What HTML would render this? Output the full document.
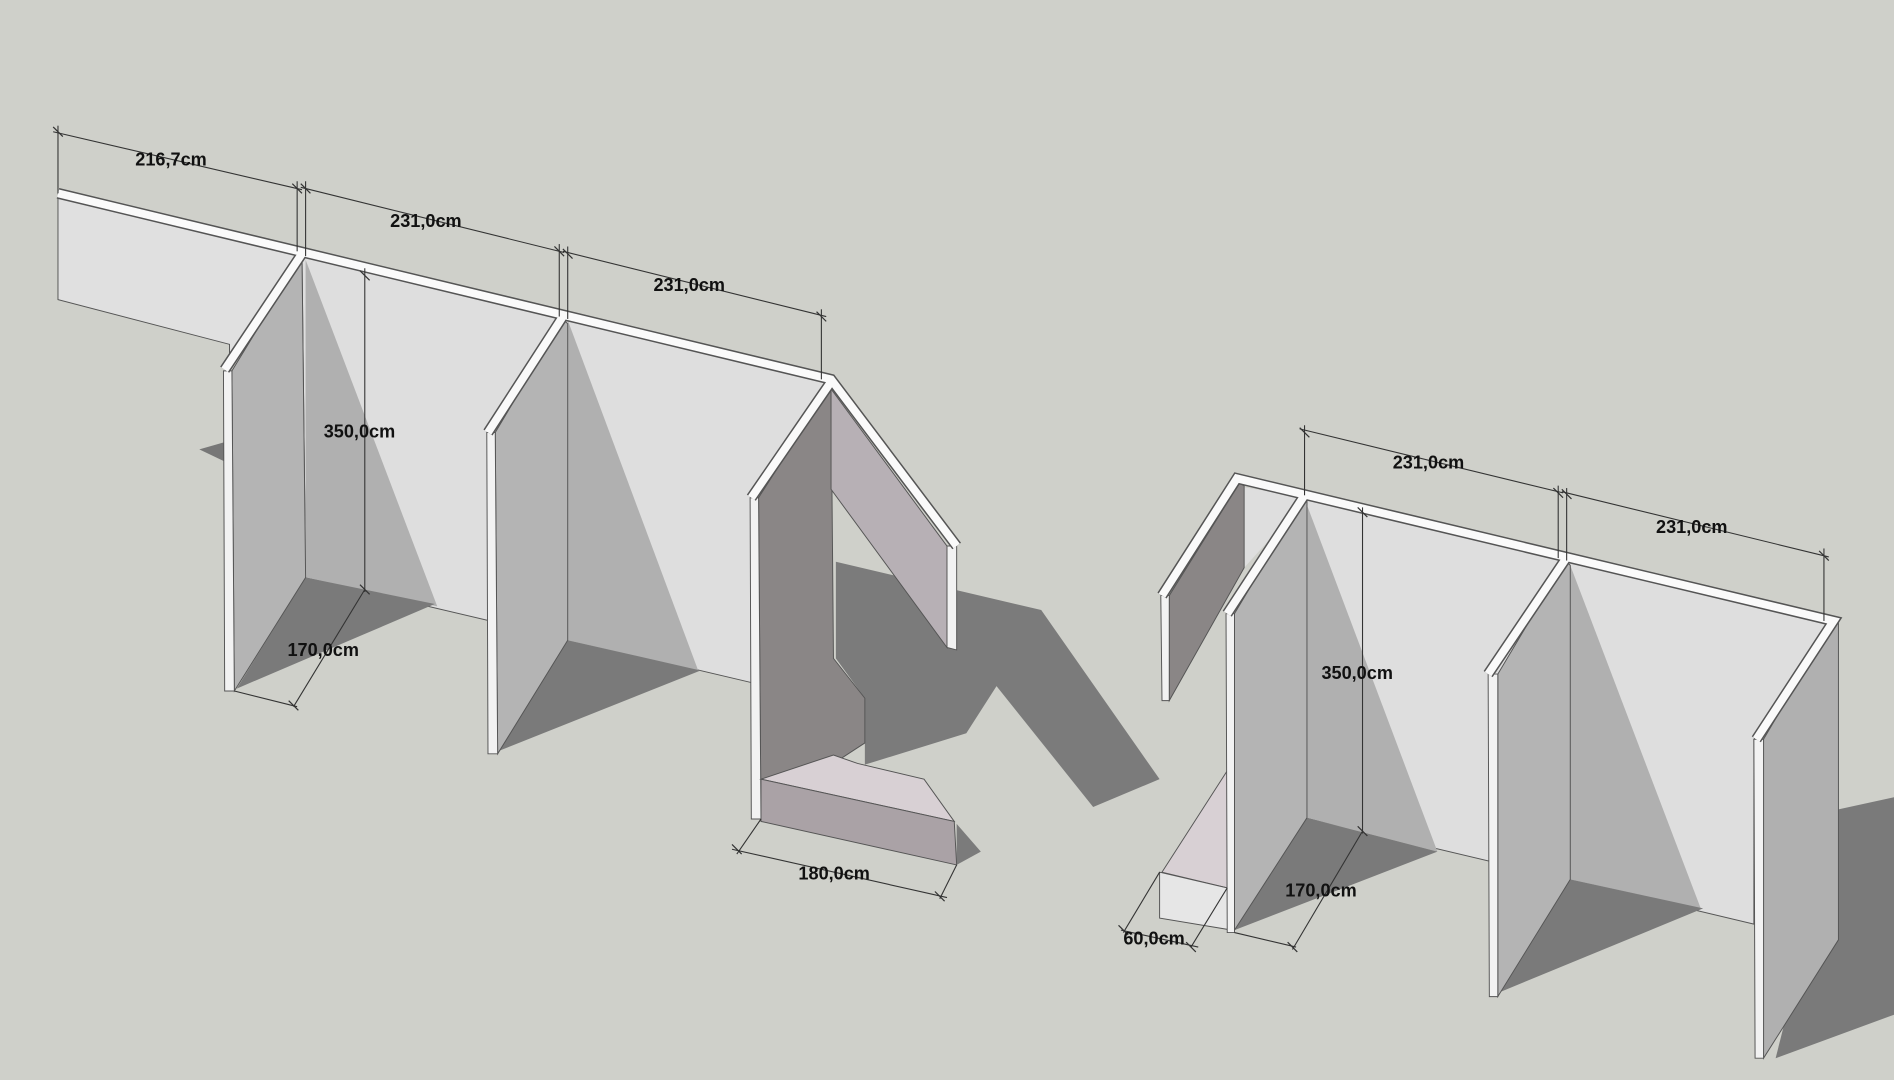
<!DOCTYPE html>
<html><head><meta charset="utf-8"><style>
html,body{margin:0;padding:0;background:#cfd0ca;}
svg{display:block;}
text{font-family:"Liberation Sans",sans-serif;font-weight:bold;font-size:15px;fill:#111;}
</style></head><body>
<svg width="1894" height="1080" viewBox="0 0 1568 894" xmlns="http://www.w3.org/2000/svg">
<rect width="1568" height="894" fill="#cfd0ca"/>
<!-- left structure -->
<polygon points="165,372 186,366 186,382" fill="#777"/>
<polygon points="48,160 250,208 190,300 190,285 48,248" fill="#e0e0e0" stroke="#555" stroke-width="0.8"/>
<polygon points="250,210 688,315 622,412 622,565 253,478" fill="#dedede" stroke="#555" stroke-width="0.8"/>
<polygon points="253,215 362,502 253,478" fill="#b0b0b0"/>
<polygon points="470,265 578,555 470,530" fill="#b0b0b0"/>
<polygon points="196,570 253,478 360,500" fill="#7a7a7a"/>
<polygon points="412,622 470,530 580,555" fill="#7a7a7a"/>
<polygon points="692,465 862,505 960,645 905,668 825,568 800,607 716,633 716,578 692,545" fill="#7b7b7b"/>
<polygon points="792,682 812,705 792,716" fill="#7b7b7b"/>
<polygon points="192,307 250,212 253,478 194,572" fill="#b4b4b4" stroke="#555" stroke-width="0.8"/>
<polygon points="185,307 192,307 194,572 186,572" fill="#f2f2f2" stroke="#555" stroke-width="0.8"/>
<polygon points="410,358 466,264 470,268 470,530 412,624" fill="#b4b4b4" stroke="#555" stroke-width="0.8"/>
<polygon points="403,358 410,358 412,624 404,624" fill="#f2f2f2" stroke="#555" stroke-width="0.8"/>
<polygon points="628,412 688,318 690,545 716,578 716,615 690,632 630,645 630,678" fill="#8a8686" stroke="#555" stroke-width="0.8"/>
<polygon points="621,412 628,412 630,678 622,678" fill="#f2f2f2" stroke="#555" stroke-width="0.8"/>
<polygon points="688,322 784,452 784,536 688,405" fill="#b7b0b5" stroke="#555" stroke-width="0.8"/>
<polygon points="784,452 792,452 792,538 784,536" fill="#f2f2f2" stroke="#555" stroke-width="0.8"/>
<polygon points="630,645 690,625 710,632 765,645 790,680" fill="#d8d0d4" stroke="#555" stroke-width="0.8"/>
<polygon points="630,645 790,680 792,716 630,680" fill="#aaa2a6" stroke="#555" stroke-width="0.8"/>
<!-- right structure -->
<polygon points="1522,670 1568,660 1568,840 1470,876" fill="#7a7a7a"/>
<polygon points="1082,412 1518,515 1452,612 1452,765 1082,677" fill="#dedede" stroke="#555" stroke-width="0.8"/>
<polygon points="1082,418 1190,705 1082,677" fill="#b0b0b0"/>
<polygon points="1300,468 1408,752 1300,728" fill="#b0b0b0"/>
<polygon points="1022,770 1082,677 1190,705" fill="#7a7a7a"/>
<polygon points="1240,822 1300,728 1410,752" fill="#7a7a7a"/>
<polygon points="1022,402 1082,412 1030,470" fill="#dedede"/>
<polygon points="968,493 1026,400 1030,402 1030,470 968,580" fill="#8a8686" stroke="#555" stroke-width="0.8"/>
<polygon points="961,493 968,493 968,580 962,580" fill="#f2f2f2" stroke="#555" stroke-width="0.8"/>
<polygon points="1022,508 1078,414 1082,412 1082,677 1022,770" fill="#b4b4b4" stroke="#555" stroke-width="0.8"/>
<polygon points="962,722 1016,638 1016,735" fill="#d8d0d4" stroke="#555" stroke-width="0.8"/>
<polygon points="960,722 1016,735 1020,770 960,760" fill="#e6e6e6" stroke="#555" stroke-width="0.8"/>
<polygon points="1015,508 1022,508 1022,772 1016,772" fill="#f2f2f2" stroke="#555" stroke-width="0.8"/>
<polygon points="1240,558 1296,464 1300,468 1300,728 1240,825" fill="#b4b4b4" stroke="#555" stroke-width="0.8"/>
<polygon points="1232,558 1240,558 1240,825 1233,825" fill="#f2f2f2" stroke="#555" stroke-width="0.8"/>
<polygon points="1460,612 1515,518 1522,515 1522,778 1460,876" fill="#b0b0b0" stroke="#555" stroke-width="0.8"/>
<polygon points="1452,612 1460,612 1460,876 1453,876" fill="#f2f2f2" stroke="#555" stroke-width="0.8"/>
<!-- top edges -->
<g fill="none" stroke-linejoin="miter">
<g stroke="#555" stroke-width="9">
<polyline points="48,160 688,314 792,452"/>
<polyline points="186,306 250,210"/><polyline points="404,358 466,262"/><polyline points="622,412 688,316"/>
<polyline points="962,493 1024,396 1518,514 1454,612"/>
<polyline points="1016,508 1080,410"/><polyline points="1232,558 1296,463"/>
</g>
<g stroke="#fafafa" stroke-width="6.5">
<polyline points="48,160 688,314 792,452"/>
<polyline points="186,306 250,210"/><polyline points="404,358 466,262"/><polyline points="622,412 688,316"/>
<polyline points="962,493 1024,396 1518,514 1454,612"/>
<polyline points="1016,508 1080,410"/><polyline points="1232,558 1296,463"/>
</g>
</g>
<!-- dimension lines -->
<g stroke="#333" stroke-width="0.9" fill="none">
<line x1="48" y1="104" x2="48" y2="160"/><line x1="246" y1="150" x2="246" y2="208"/>
<line x1="253" y1="150" x2="253" y2="212"/><line x1="463" y1="202" x2="463" y2="262"/>
<line x1="470" y1="204" x2="470" y2="264"/><line x1="680" y1="256" x2="680" y2="314"/>
<line x1="44" y1="109" x2="250" y2="157"/><line x1="249" y1="155" x2="467" y2="209"/><line x1="466" y1="208" x2="684" y2="262"/>
<line x1="302" y1="222" x2="302" y2="490"/><line x1="302" y1="488" x2="243" y2="585"/><line x1="194" y1="572" x2="246" y2="585"/>
<line x1="630" y1="678" x2="610" y2="707"/><line x1="792" y1="716" x2="778" y2="744"/><line x1="606" y1="703" x2="784" y2="743"/>
<line x1="1080" y1="352" x2="1080" y2="410"/><line x1="1290" y1="402" x2="1290" y2="462"/><line x1="1297" y1="404" x2="1297" y2="464"/><line x1="1510" y1="454" x2="1510" y2="514"/>
<line x1="1076" y1="355" x2="1294" y2="408"/><line x1="1293" y1="407" x2="1514" y2="461"/>
<line x1="1128" y1="420" x2="1128" y2="690"/><line x1="1128" y1="688" x2="1070" y2="786"/><line x1="1022" y1="772" x2="1073" y2="784"/>
<line x1="960" y1="722" x2="930" y2="772"/><line x1="1016" y1="735" x2="986" y2="784"/><line x1="928" y1="770" x2="992" y2="784"/>
</g>
<g stroke="#333" stroke-width="1">
<path d="M44,105 l8,8 M242,152 l8,8 M249,152 l8,8 M459,204 l8,8 M466,206 l8,8 M676,258 l8,8 M298,224 l8,8 M298,484 l8,8 M239,580 l8,8 M606,699 l8,8 M774,738 l8,8 M1076,354 l8,8 M1286,404 l8,8 M1293,405 l8,8 M1506,456 l8,8 M1124,420 l8,8 M1124,684 l8,8 M1066,780 l8,8 M926,766 l8,8 M982,780 l8,8"/>
</g>
<g>
<text x="112" y="137">216,7cm</text>
<text x="323" y="188">231,0cm</text>
<text x="541" y="241">231,0cm</text>
<text x="268" y="362">350,0cm</text>
<text x="238" y="543">170,0cm</text>
<text x="661" y="728">180,0cm</text>
<text x="1153" y="388">231,0cm</text>
<text x="1371" y="441">231,0cm</text>
<text x="1094" y="562">350,0cm</text>
<text x="1064" y="742">170,0cm</text>
<text x="930" y="782">60,0cm</text>
</g>
</svg>
</body></html>
